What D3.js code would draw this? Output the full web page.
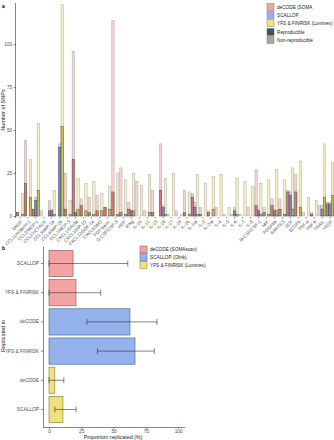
<!DOCTYPE html>
<html>
<head>
<meta charset="utf-8">
<script src="https://cdn.jsdelivr.net/npm/d3@7"></script>
<style>
  body { margin: 0; background: #fff; }
  svg { display: block; font-family: "Liberation Sans", Arial, sans-serif; }
  .axis path, .axis line { stroke: #333; stroke-width: 0.6; }
  .axis text { fill: #4d4d4d; }
</style>
</head>
<body>
<svg id="chart" width="334" height="440"></svg>
<script>
// Panel a: SNP-Anzahl je Protein und Kohorte
const proteins = ['bNGF', 'CCL11/eotaxin-1', 'CCL2/MCP-1', 'CCL27/CTACK', 'CCL3/MIP-1a', 'CCL4/MIP-1b',
    'CCL7/MCP-3', 'CXCL1/GROa', 'CXCL10/IP-10', 'CXCL12/SDF-1a', 'CXCL9/MIG', 'FGF-basic',
    'G-CSF/CSF-3', 'HGF', 'IFNg', 'IL-10', 'IL-12', 'IL-13', 'IL-16', 'IL-17', 'IL-18', 'IL-1b',
    'IL-1ra', 'IL-2', 'IL-2ra', 'IL-4', 'IL-5', 'IL-6', 'IL-7', 'IL-8', 'M-CSF/CSF-1', 'MIF',
    'PDGFbb', 'RANTES', 'SCF', 'SCGFb', 'TNF-a', 'TNF-b', 'TRAIL', 'VEGF'];
const decodeTotal = [2, 44, 4, 3, 9, 0, 25, 96, 10, 11, 12, 5, 114, 28, 8, 20, 3, 15, 42, 1,
    3, 15, 13, 5, 3, 5, 1, 1, 1, 5, 27, 5, 10, 10, 15, 24, 2, 2, 6, 8];
const decodeRepro = [2, 19, 4, 0, 3, 0, 4, 33, 6, 2, 3, 5, 14, 2, 4, 0, 0, 2, 15, 0,
    0, 2, 11, 1, 2, 0, 0, 0, 0, 0, 6, 2, 6, 4, 14, 14, 0, 1, 0, 7];
const scallopTotal = [0, 0, 11, 0, 4, 42, 0, 2, 0, 0, 0, 0, 0, 0, 3, 0, 0, 0, 6, 0,
    0, 0, 8, 0, 0, 0, 0, 5, 0, 0, 4, 0, 4, 0, 14, 0, 0, 0, 6, 8];
const scallopRepro = [0, 0, 9, 0, 3, 40, 0, 2, 0, 0, 0, 0, 0, 0, 3, 0, 0, 0, 5, 0,
    0, 0, 5, 0, 0, 0, 0, 3, 0, 0, 3, 0, 3, 0, 12, 0, 0, 0, 4, 7];
const yfsTotal = [13, 33, 54, 0, 15, 123, 9, 22, 19, 20, 13, 17, 25, 21, 25, 18, 24, 0, 22, 25,
    1, 14, 24, 19, 23, 24, 5, 22, 20, 17, 19, 21, 27, 21, 28, 32, 11, 9, 42, 31];
const yfsRepro = [1, 11, 15, 0, 1, 52, 1, 4, 3, 1, 3, 4, 1, 1, 3, 0, 2, 0, 1, 0,
    0, 1, 1, 0, 4, 0, 0, 1, 0, 0, 1, 1, 3, 1, 4, 5, 0, 0, 11, 12];
const yTicksA = [0, 25, 50, 75, 100];

// Panel b: Anteil repliziert
const replicatedIn = ['SCALLOP', 'YFS & FINRISK', 'deCODE', 'YFS & FINRISK', 'deCODE', 'SCALLOP'];
const discoveredIn = ['deCODE', 'deCODE', 'SCALLOP', 'SCALLOP', 'YFS', 'YFS'];
const proportion = [18.6, 20.9, 62.7, 66.6, 4.5, 10.8];
const ciLow = [0, 0, 29.4, 37.5, 0, 4.5];
const ciHigh = [61, 40, 83.6, 81.5, 11.5, 21];
const xTicksB = [0, 25, 50, 75, 100];

const cohorts = ['deCODE', 'SCALLOP', 'YFS'];
const fillColor = { deCODE: '#f4a3a3', SCALLOP: '#94b3ec', YFS: '#efe27a' };
const darkColor = { deCODE: '#de7676', SCALLOP: '#6a93d8', YFS: '#cfc246' };
const strokeColor = { deCODE: '#8a5050', SCALLOP: '#44608f', YFS: '#7d7535' };

const svg = d3.select('#chart');

/**
 * Panel a zeichnen
 */
function drawPanelA() {
    const rows = proteins.map((p, i) => ({
        protein: p,
        vals: [
            { c: 'deCODE', total: decodeTotal[i], rep: decodeRepro[i] },
            { c: 'SCALLOP', total: scallopTotal[i], rep: scallopRepro[i] },
            { c: 'YFS', total: yfsTotal[i], rep: yfsRepro[i] }
        ]
    }));

    const x0 = d3.scaleBand().domain(proteins).range([16, 334]).paddingInner(0.08).paddingOuter(0.04);
    const x1 = d3.scaleBand().domain(cohorts).range([0, x0.bandwidth()]).padding(0.05);
    const y = d3.scaleLinear().domain([0, 124]).range([216, 3]);

    // Achsen
    const yAxis = svg.append('g')
        .attr('class', 'axis')
        .attr('transform', 'translate(15.5,0)')
        .call(d3.axisLeft(y).tickValues(yTicksA).tickSize(2).tickPadding(1.5));
    yAxis.select('.domain').attr('d', 'M0,3V218');
    yAxis.selectAll('text').style('font-size', '4.6px');

    const xAxis = svg.append('g')
        .attr('class', 'axis')
        .attr('transform', 'translate(0,217)')
        .call(d3.axisBottom(x0).tickSize(1.5).tickPadding(1));
    xAxis.select('.domain').remove();
    xAxis.selectAll('text')
        .style('font-size', '4.5px')
        .attr('text-anchor', 'end')
        .attr('dx', '0')
        .attr('dy', '0')
        .attr('transform', 'translate(1,3.2) rotate(-45)');

    const grp = svg.append('g').selectAll('g')
        .data(rows)
        .enter()
        .append('g')
        .attr('transform', d => `translate(${x0(d.protein)},0)`);

    // Gesamtbalken (nicht reproduzierbar, blass)
    grp.selectAll('.tot')
        .data(d => d.vals.filter(v => v.total > 0))
        .enter()
        .append('rect')
        .attr('x', d => x1(d.c))
        .attr('y', d => y(d.total))
        .attr('width', x1.bandwidth())
        .attr('height', d => y(0) - y(d.total))
        .attr('fill', d => fillColor[d.c])
        .attr('fill-opacity', 0.5)
        .attr('stroke', '#9a9a9a')
        .attr('stroke-width', 0.4);

    // Reproduzierbare Balken
    grp.selectAll('.rep')
        .data(d => d.vals.filter(v => v.rep > 0))
        .enter()
        .append('rect')
        .attr('x', d => x1(d.c))
        .attr('y', d => y(d.rep))
        .attr('width', x1.bandwidth())
        .attr('height', d => y(0) - y(d.rep))
        .attr('fill', d => darkColor[d.c])
        .attr('stroke', '#333')
        .attr('stroke-width', 0.4);

    // Label a
    svg.append('text').attr('x', 2).attr('y', 8)
        .style('font-size', '5px').style('font-weight', 'bold').text('a');

    // Y-Achsen-Titel
    svg.append('text')
        .attr('transform', 'translate(5,110) rotate(-90)')
        .attr('text-anchor', 'middle')
        .style('font-size', '5.5px')
        .style('fill', '#222')
        .text('Number of SNPs');

    // Legende
    const leg = svg.append('g').attr('transform', 'translate(267,3.5)');
    const items = [
        { label: 'deCODE (SOMA', fill: fillColor.deCODE, y: 0 },
        { label: 'SCALLOP', fill: fillColor.SCALLOP, y: 8 },
        { label: 'YFS & FINRISK (Luminex)', fill: fillColor.YFS, y: 16 },
        { label: 'Reproducible', fill: '#4d4d4d', y: 25 },
        { label: 'Non-reproducible', fill: '#a6a6a6', y: 33 }
    ];
    leg.selectAll('rect').data(items).enter().append('rect')
        .attr('x', 0).attr('y', d => d.y)
        .attr('width', 7).attr('height', 7)
        .attr('fill', d => d.fill)
        .attr('stroke', '#666').attr('stroke-width', 0.4);
    leg.selectAll('text').data(items).enter().append('text')
        .attr('x', 10).attr('y', d => d.y + 5.2)
        .style('font-size', '4.7px').style('fill', '#222')
        .text(d => d.label);
}

/**
 * Panel b zeichnen
 */
function drawPanelB() {
    const idx = replicatedIn.map((d, i) => i);
    const x = d3.scaleLinear().domain([-4.65, 105]).range([43, 184.6]);
    const y = d3.scaleBand().domain(idx).range([246, 427]).paddingInner(0.1).paddingOuter(0.15);

    const xAxis = svg.append('g')
        .attr('class', 'axis')
        .attr('transform', 'translate(0,427)')
        .call(d3.axisBottom(x).tickValues(xTicksB).tickSize(1.5).tickPadding(0.8).tickSizeOuter(0));
    xAxis.selectAll('text').style('font-size', '4.8px');

    const yAxis = svg.append('g')
        .attr('class', 'axis')
        .attr('transform', 'translate(43,0)')
        .call(d3.axisLeft(y).tickSize(2).tickPadding(2).tickSizeOuter(0).tickFormat(i => replicatedIn[i]));
    yAxis.selectAll('text').style('font-size', '4.8px');

    // Balken
    svg.append('g').selectAll('rect')
        .data(idx)
        .enter()
        .append('rect')
        .attr('x', x(0))
        .attr('y', i => y(i))
        .attr('width', i => x(proportion[i]) - x(0))
        .attr('height', y.bandwidth())
        .attr('fill', i => fillColor[discoveredIn[i]])
        .attr('stroke', i => strokeColor[discoveredIn[i]])
        .attr('stroke-width', 0.6);

    // Fehlerbalken
    const err = svg.append('g').selectAll('g')
        .data(idx)
        .enter()
        .append('g')
        .attr('stroke', '#333')
        .attr('stroke-width', 0.6);
    err.append('line')
        .attr('x1', i => x(ciLow[i])).attr('x2', i => x(ciHigh[i]))
        .attr('y1', i => y(i) + y.bandwidth() / 2).attr('y2', i => y(i) + y.bandwidth() / 2);
    err.append('line')
        .attr('x1', i => x(ciLow[i])).attr('x2', i => x(ciLow[i]))
        .attr('y1', i => y(i) + y.bandwidth() / 2 - 3).attr('y2', i => y(i) + y.bandwidth() / 2 + 3);
    err.append('line')
        .attr('x1', i => x(ciHigh[i])).attr('x2', i => x(ciHigh[i]))
        .attr('y1', i => y(i) + y.bandwidth() / 2 - 3).attr('y2', i => y(i) + y.bandwidth() / 2 + 3);

    svg.append('text').attr('x', 2).attr('y', 250)
        .style('font-size', '5px').style('font-weight', 'bold').text('b');

    svg.append('text')
        .attr('x', 113).attr('y', 439.3)
        .attr('text-anchor', 'middle')
        .style('font-size', '5.3px').style('fill', '#222')
        .text('Proportion replicated (%)');

    svg.append('text')
        .attr('transform', 'translate(5,336) rotate(-90)')
        .attr('text-anchor', 'middle')
        .style('font-size', '5.5px').style('fill', '#222')
        .text('Replicated in');

    // Legende
    const leg = svg.append('g').attr('transform', 'translate(140,246)');
    const items = [
        { label: 'deCODE (SOMAscan)', c: 'deCODE' },
        { label: 'SCALLOP (Olink)', c: 'SCALLOP' },
        { label: 'YFS & FINRISK (Luminex)', c: 'YFS' }
    ];
    leg.selectAll('rect').data(items).enter().append('rect')
        .attr('x', 0).attr('y', (d, i) => i * 7.7)
        .attr('width', 7).attr('height', 7)
        .attr('fill', d => fillColor[d.c])
        .attr('stroke', d => strokeColor[d.c]).attr('stroke-width', 0.5);
    leg.selectAll('text').data(items).enter().append('text')
        .attr('x', 10).attr('y', (d, i) => i * 7.7 + 5.2)
        .style('font-size', '4.7px').style('fill', '#222')
        .text(d => d.label);
}

drawPanelA();
drawPanelB();
</script>
</body>
</html>
